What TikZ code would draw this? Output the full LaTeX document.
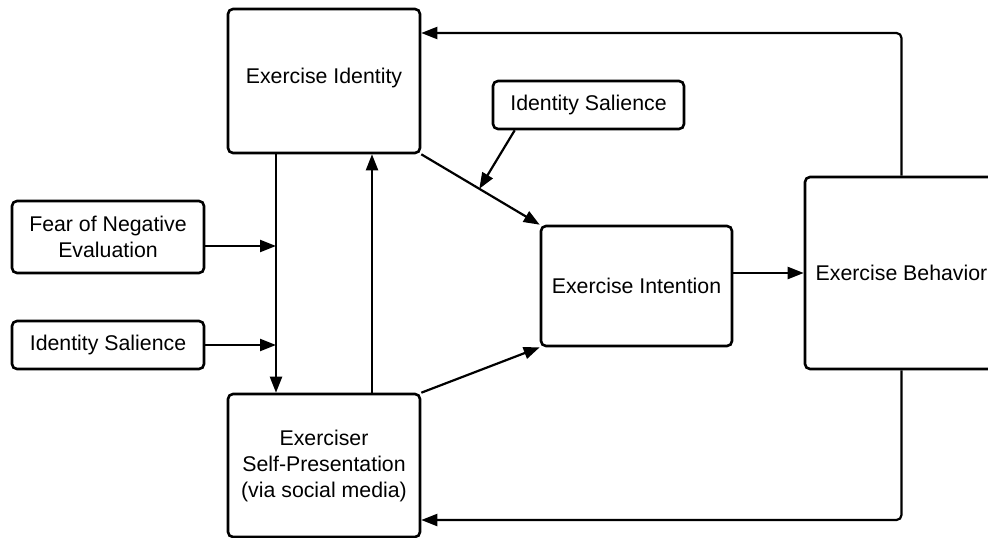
\documentclass[tikz,border=0pt]{standalone}
\usepackage{fontspec}
\setmainfont{Liberation Sans}
\usetikzlibrary{arrows.meta,calc}
\begin{document}
\begin{tikzpicture}[x=1pt,y=-1pt,
  box/.style={draw=black, line width=2.6pt, rounded corners=5pt, fill=white,
    inner sep=0pt, align=center, font=\fontsize{21.3}{26}\selectfont},
  conn/.style={line width=2.2pt, -{Triangle[length=16pt,width=12pt]}}
]
\useasboundingbox (0,0) rectangle (988,538);
\clip (0,0) rectangle (988,538);
\fill[white] (0,0) rectangle (988,538);

\node[box, minimum width=192pt, minimum height=144pt] (EI) at (324,81) {};
\node[font=\fontsize{21.3}{26}\selectfont, inner sep=0pt] (EIlabel) at (324,78) {Exercise Identity};
\node[box, minimum width=192pt, minimum height=72pt] (FNE) at (108,237) {Fear of Negative\\Evaluation};
\node[box, minimum width=192pt, minimum height=48pt] (ISL) at (108,345) {Identity Salience};
\node[box, minimum width=192pt, minimum height=143pt] (SP) at (324,465.5) {Exerciser\\Self-Presentation\\(via social media)};
\node[box, minimum width=191pt, minimum height=48pt] (IST) at (588.5,105) {Identity Salience};
\node[box, minimum width=191pt, minimum height=120pt] (EInt) at (636.5,286) {Exercise Intention};
\node[box, minimum width=193pt, minimum height=192pt] (EB) at (901.5,273) {Exercise Behavior};

% vertical links between Exercise Identity and Self-Presentation
\coordinate (m1) at (276,246);
\coordinate (m2) at (276,345);
\draw[conn] (EI.south -| m1) -- (SP.north -| m1);
\draw[conn] (SP.north -| 372,0) -- (EI.south -| 372,0);

% moderators on the left
\draw[conn] (FNE.east |- m1) -- (m1);
\draw[conn] (ISL.east |- m2) -- (m2);

% to Exercise Intention
\draw[conn] (EI.south east) -- (EInt.north west);
\coordinate (mid) at ($(EI.south east)!0.49!(EInt.north west)$);
\draw[conn] ($(IST.south west)+(23,0)$) -- (mid);
\draw[conn] (SP.north east) -- (EInt.south west);

% to Exercise Behavior
\draw[conn] (EInt.east |- EB.west) -- (EB.west);

% feedback loops
\coordinate (tf) at (EI.east |- 0,33);
\coordinate (bf) at (SP.east |- 0,520);
\draw[conn, rounded corners=5pt] (EB.north) -- (EB.north |- tf) -- (tf);
\draw[conn, rounded corners=5pt] (EB.south) -- (EB.south |- bf) -- (bf);
\end{tikzpicture}
\end{document}
